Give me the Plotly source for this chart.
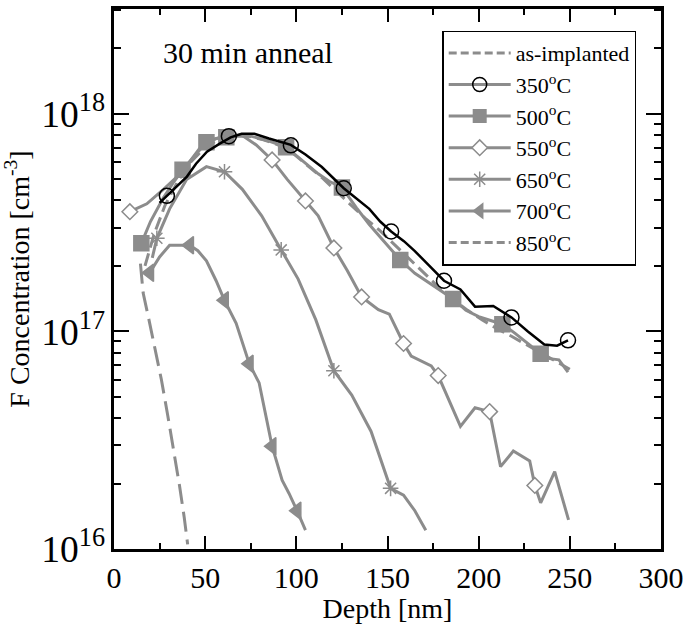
import plotly.graph_objects as go

# ---------------- data ----------------
asimp_x = [17, 22, 28, 35, 42, 50, 58, 66, 74, 82, 90, 98, 106, 114, 122, 130, 138, 146, 154, 162, 170, 178, 186, 194, 202, 210, 218, 226, 234, 242, 250]
asimp_y = [2.0e17, 2.8e17, 3.8e17, 4.9e17, 6.0e17, 7.0e17, 7.7e17, 8.0e17, 7.9e17, 7.6e17, 7.2e17, 6.6e17, 5.8e17, 5.1e17, 4.4e17, 3.8e17, 3.3e17, 2.9e17, 2.5e17, 2.15e17, 1.85e17, 1.6e17, 1.4e17, 1.25e17, 1.13e17, 1.03e17, 9.5e16, 8.7e16, 8.0e16, 7.3e16, 6.7e16]

t350_x = [25, 29, 35, 40, 45, 51, 58, 64, 70, 77, 85, 97, 105, 114, 126, 133, 140, 146, 152, 159, 165, 173, 181, 190, 198, 208, 218, 227, 236, 243, 249]
t350_y = [3.9e17, 4.2e17, 4.7e17, 5.15e17, 5.9e17, 6.7e17, 7.3e17, 7.8e17, 8.1e17, 8.1e17, 7.7e17, 7.2e17, 6.5e17, 5.7e17, 4.55e17, 4.1e17, 3.66e17, 3.2e17, 2.88e17, 2.6e17, 2.34e17, 2.0e17, 1.71e17, 1.56e17, 1.30e17, 1.31e17, 1.16e17, 1.0e17, 8.7e16, 8.6e16, 9.1e16]
t350_sx = [29, 63, 97, 126, 152, 181, 218, 249]
t350_sy = [4.2e17, 7.9e17, 7.17e17, 4.55e17, 2.88e17, 1.71e17, 1.16e17, 9.1e16]

t500_x = [15, 20, 27, 33, 37.6, 44, 50.7, 56, 61.6, 68, 75, 85, 94.4, 103, 112, 118, 125, 133, 140, 148, 157, 165, 175, 186, 193, 200, 207, 213, 220, 227, 234, 239, 244, 249]
t500_y = [2.54e17, 3.2e17, 4.1e17, 4.9e17, 5.53e17, 6.4e17, 7.4e17, 7.7e17, 7.8e17, 7.9e17, 7.9e17, 7.5e17, 7.03e17, 6.1e17, 5.3e17, 4.9e17, 4.59e17, 3.7e17, 3.1e17, 2.6e17, 2.13e17, 1.85e17, 1.62e17, 1.41e17, 1.25e17, 1.17e17, 1.12e17, 1.08e17, 9.8e16, 8.8e16, 7.9e16, 7.5e16, 7.4e16, 6.5e16]
t500_sx = [15, 37.6, 50.7, 61.6, 94.4, 125, 157, 186, 213, 234]
t500_sy = [2.54e17, 5.53e17, 7.4e17, 7.8e17, 7.03e17, 4.59e17, 2.13e17, 1.41e17, 1.08e17, 7.9e16]

t550_x = [8.7, 18, 26, 37, 47, 52, 60, 70, 78, 86.7, 95, 105, 112, 120.6, 128, 135.8, 145, 151, 158.8, 163, 174, 177.8, 190, 198, 206, 212, 219, 228, 230.8, 234, 241.7, 249.3]
t550_y = [3.55e17, 3.86e17, 4.41e17, 5.37e17, 6.95e17, 7.5e17, 7.9e17, 8.0e17, 7.2e17, 6.14e17, 5.0e17, 3.98e17, 3.4e17, 2.42e17, 1.9e17, 1.44e17, 1.26e17, 1.2e17, 8.8e16, 7.7e16, 6.95e16, 6.27e16, 3.66e16, 4.46e16, 4.28e16, 2.39e16, 2.82e16, 2.54e16, 1.96e16, 1.63e16, 2.27e16, 1.36e16]
t550_sx = [8.7, 86.7, 105, 120.6, 135.8, 158.8, 177.8, 206, 230.8]
t550_sy = [3.55e17, 6.14e17, 3.98e17, 2.42e17, 1.44e17, 8.8e16, 6.27e16, 4.28e16, 1.96e16]

t650_x = [21, 23.5, 30.5, 39.8, 50.7, 60.6, 70.4, 81, 91.7, 101, 110.7, 120.6, 130.4, 141, 151.7, 158.8, 165, 171]
t650_y = [2.18e17, 2.68e17, 3.66e17, 4.99e17, 5.72e17, 5.42e17, 4.5e17, 3.4e17, 2.37e17, 1.74e17, 1.13e17, 6.6e16, 5.1e16, 3.47e16, 1.9e16, 1.77e16, 1.5e16, 1.22e16]
t650_sx = [23.5, 60.6, 91.7, 120.6, 151.7]
t650_sy = [2.68e17, 5.42e17, 2.37e17, 6.6e16, 1.9e16]

t700_x = [19.6, 25, 30.5, 36, 41.5, 46, 50.7, 56, 60.6, 67, 74.2, 79.6, 83.4, 86.7, 92.2, 96, 100.4, 105]
t700_y = [1.86e17, 2.2e17, 2.49e17, 2.5e17, 2.49e17, 2.35e17, 2.11e17, 1.71e17, 1.39e17, 1.09e17, 7.1e16, 5.8e16, 4.0e16, 2.97e16, 2.07e16, 1.8e16, 1.5e16, 1.22e16]
t700_sx = [19.6, 41.5, 60.6, 74.2, 86.7, 100.4]
t700_sy = [1.86e17, 2.49e17, 1.39e17, 7.1e16, 2.97e16, 1.5e16]

t850_x = [14.5, 16, 19, 22.4, 26, 29.5, 33, 36, 38.5, 40.4]
t850_y = [2.05e17, 1.5e17, 1.15e17, 8.5e16, 6.0e16, 4.1e16, 2.8e16, 1.94e16, 1.4e16, 1.05e16]

legend_names = ["as-implanted", "350<sup>o</sup>C", "500<sup>o</sup>C", "550<sup>o</sup>C",
                "650<sup>o</sup>C", "700<sup>o</sup>C", "850<sup>o</sup>C"]

# ---------------- styles ----------------
GREY = "#8c8c8c"
FONT = "Times New Roman, Liberation Serif, serif"

fig = go.Figure()

def line(x, y, color, width=3, dash="solid"):
    fig.add_trace(go.Scatter(x=x, y=y, mode="lines", showlegend=False, hoverinfo="skip",
                             line=dict(color=color, width=width, dash=dash)))

def syms(x, y, symbol, size, color, fill, lw=1.5):
    fig.add_trace(go.Scatter(x=x, y=y, mode="markers", showlegend=False, hoverinfo="skip",
                             marker=dict(symbol=symbol, size=size, color=fill,
                                         line=dict(color=color, width=lw))))

dash850 = "20px,8px"
dashimp = "13px,6px"

line(asimp_x, asimp_y, GREY, 3, dashimp)
line(t850_x, t850_y, GREY, 3, dash850)
line(t700_x, t700_y, GREY, 3)
syms(t700_sx, t700_sy, "triangle-left", 15, GREY, GREY)
line(t650_x, t650_y, GREY, 3)
syms(t650_sx, t650_sy, "asterisk-open", 13, GREY, GREY, 1.5)
line(t550_x, t550_y, GREY, 3)
syms(t550_sx, t550_sy, "diamond", 12, GREY, "white", 1.5)
line(t500_x, t500_y, GREY, 3)
syms(t500_sx, t500_sy, "square", 15, GREY, GREY)
line(t350_x, t350_y, "black", 2.5)
syms(t350_sx, t350_sy, "circle-open", 15, "black", "black", 1.5)

# legend-only entries
leg_styles = [
    dict(mode="lines", line=dict(color=GREY, width=3, dash="8px,4px")),
    dict(mode="lines+markers", line=dict(color=GREY, width=3),
         marker=dict(symbol="circle-open", size=14, color="black", line=dict(color="black", width=1.5))),
    dict(mode="lines+markers", line=dict(color=GREY, width=3),
         marker=dict(symbol="square", size=14, color=GREY)),
    dict(mode="lines+markers", line=dict(color=GREY, width=3),
         marker=dict(symbol="diamond", size=12, color="white", line=dict(color=GREY, width=1.5))),
    dict(mode="lines+markers", line=dict(color=GREY, width=3),
         marker=dict(symbol="asterisk-open", size=13, color=GREY, line=dict(color=GREY, width=1.5))),
    dict(mode="lines+markers", line=dict(color=GREY, width=3),
         marker=dict(symbol="triangle-left", size=15, color=GREY)),
    dict(mode="lines", line=dict(color=GREY, width=3, dash="8px,4px")),
]
for name, st in zip(legend_names, leg_styles):
    fig.add_trace(go.Scatter(x=[None], y=[None], name=name, showlegend=True, **st))

fig.add_annotation(text="30 min anneal", xref="paper", yref="paper", x=0.245, y=0.92,
                   xanchor="center", yanchor="middle", showarrow=False,
                   font=dict(family=FONT, size=30, color="black"))

fig.update_layout(
    width=690, height=624, autosize=False,
    margin=dict(l=114, r=26, t=6, b=67),
    plot_bgcolor="white", paper_bgcolor="white",
    font=dict(family=FONT, color="black", size=26),
    legend=dict(x=0.6, y=0.96, xanchor="left", yanchor="top",
                bgcolor="white", bordercolor="black", borderwidth=1.5,
                font=dict(family=FONT, size=22, color="black"),
                itemwidth=62, tracegroupgap=0),
)
fig.update_xaxes(
    range=[0, 300], dtick=50, tick0=0, showline=True, linecolor="black", linewidth=3,
    mirror="allticks", ticks="inside", ticklen=13, tickwidth=2, tickcolor="black",
    minor=dict(dtick=25, ticks="inside", ticklen=6, tickwidth=2, tickcolor="black"),
    showgrid=False, zeroline=False,
    tickfont=dict(family=FONT, size=30, color="black"),
    title=dict(text="Depth [nm]", font=dict(family=FONT, size=28, color="black"), standoff=4),
)
fig.update_yaxes(
    type="log", range=[16, 18.482], dtick=1, exponentformat="power",
    showline=True, linecolor="black", linewidth=3,
    mirror="allticks", ticks="inside", ticklen=15, tickwidth=2, tickcolor="black",
    minor=dict(dtick="D1", ticks="inside", ticklen=7, tickwidth=2, tickcolor="black"),
    showgrid=False, zeroline=False,
    tickfont=dict(family=FONT, size=30, color="black"),
    title=dict(text="F Concentration [cm<sup>-3</sup>]", font=dict(family=FONT, size=28, color="black"), standoff=6),
)

fig.write_html("out.html")
